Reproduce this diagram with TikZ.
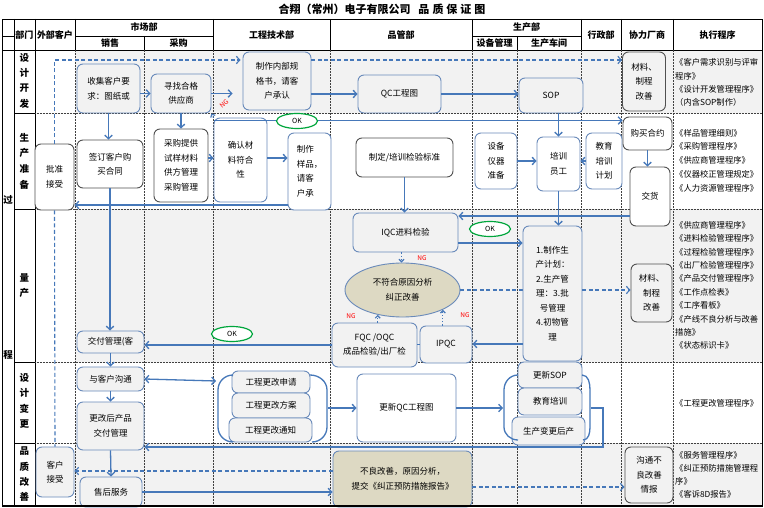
\documentclass[tikz,border=0pt]{standalone}
\usepackage{fontspec}
\setmainfont{Noto Sans CJK SC}
\usetikzlibrary{arrows.meta,shapes.geometric}
\definecolor{lnblue}{RGB}{70,120,185}
\definecolor{bxblue}{RGB}{105,138,186}
\definecolor{bxdark}{RGB}{80,80,80}
\definecolor{bggray}{RGB}{242,242,242}
\definecolor{khaki}{RGB}{221,217,195}
\definecolor{okgreen}{RGB}{0,166,60}
\newcommand\mynodefont{\fontsize{8.5pt}{14.5pt}\selectfont}
\newcommand\myhdrfont{\fontsize{9pt}{11pt}\selectfont\bfseries}
\newcommand\mystagefont{\fontsize{9.5pt}{15.3pt}\selectfont\bfseries}
\begin{document}
\begin{tikzpicture}[x=1pt,y=-1pt,
  >={Straight Barb[length=3.5pt,width=7.5pt]},
  box/.style={draw=bxblue, line width=0.9pt, rounded corners=6pt, fill=bggray, align=center, font=\mynodefont, inner sep=1pt},
  wbox/.style={box, fill=white},
  dk/.style={draw=bxdark},
  kbox/.style={box, fill=khaki},
  arr/.style={draw=lnblue, line width=1.3pt, ->},
  ln/.style={draw=lnblue, line width=1.3pt},
  darr/.style={draw=lnblue, line width=1.1pt, dash pattern=on 4pt off 2.5pt, ->},
  dln/.style={draw=lnblue, line width=1.1pt, dash pattern=on 4pt off 2.5pt},
  dotarr/.style={draw=lnblue, line width=1.2pt, dotted, -{Straight Barb[length=2.5pt,width=5pt]}},
  okel/.style={ellipse, draw=okgreen, line width=1.2pt, fill=white, minimum width=41pt, minimum height=15pt, inner sep=0pt, font=\fontsize{7pt}{8pt}\selectfont},
  ng/.style={text=red, font=\fontsize{6.5pt}{7pt}\selectfont, inner sep=0pt},
  gridln/.style={black!75, line width=0.5pt, densely dotted},
  solidln/.style={black, line width=0.6pt},
  hdr/.style={font=\myhdrfont, inner sep=0pt},
  stage/.style={font=\mystagefont, align=center, inner sep=0pt},
  exec/.style={align=left, anchor=west, inner sep=0pt}
]
\useasboundingbox (0,0) rectangle (764,508);
\fill[white] (0,0) rectangle (764,508);
% row backgrounds
\fill[bggray] (75,50) rectangle (762,113);
\fill[bggray] (75,209) rectangle (762,362);
\fill[bggray] (75,443) rectangle (762,505);
% title
\node[font=\fontsize{11pt}{13pt}\selectfont\bfseries, inner sep=0pt] (title) at (382,9.5) {合翔（常州）电子有限公司\hspace{8pt}品\hspace{3pt}质\hspace{3pt}保\hspace{3pt}证\hspace{3pt}图};
% header grid
\draw[solidln] (2,19) rectangle (762,506);
\draw[solidln] (2,50) -- (762,50);
\foreach \xx in {14,35,75,213,330,472,581,621,673} {\draw[solidln] (\xx,19) -- (\xx,50);}
\foreach \xx in {144,517} {\draw[solidln] (\xx,36) -- (\xx,50);}
\draw[solidln] (75,36) -- (213,36);
\draw[solidln] (472,36) -- (581,36);
\draw[solidln] (2,36) -- (14,36);
% body grid
\draw[solidln] (14,50) -- (14,506);
\draw[solidln] (35,50) -- (35,506);
\foreach \xx in {75,144,213,330,472,517,581,621,673} {\draw[gridln] (\xx,50) -- (\xx,506);}
\foreach \yy in {113,209,362,443} {\draw[solidln] (14,\yy) -- (35,\yy); \draw[gridln] (35,\yy) -- (762,\yy);}
% header texts
\node[hdr] (hbm) at (24.5,35) {部门};
\node[hdr] (hwb) at (55,35) {外部客户};
\node[hdr] (hsc) at (144,27.5) {市场部};
\node[hdr] (hxs) at (110,43) {销售};
\node[hdr] (hcg) at (178.5,43) {采购};
\node[hdr] (hgc) at (271.5,35) {工程技术部};
\node[hdr] (hpg) at (401,35) {品管部};
\node[hdr] (hsp) at (526.5,27.5) {生产部};
\node[hdr] (hsb) at (494.5,43) {设备管理};
\node[hdr] (hcj) at (549,43) {生产车间};
\node[hdr] (hxz) at (601,35) {行政部};
\node[hdr] (hxl) at (647,35) {协力厂商};
\node[hdr] (hzx) at (717.5,35) {执行程序};
% process column
\node[stage] (pg1) at (8,200) {过};
\node[stage] (pg2) at (8,355) {程};
% stage labels
\node[stage] (st1) at (24.5,80.5) {设\\计\\开\\发};
\node[stage, font=\fontsize{9.5pt}{15.6pt}\selectfont\bfseries] (st2) at (24.5,161) {生\\产\\准\\备};
\node[stage] (st3) at (24.5,285.5) {量\\产};
\node[stage] (st4) at (24.5,401) {设\\计\\变\\更};
\node[stage] (st5) at (24.5,474.5) {品\\质\\改\\善};
% execution procedures
\node[exec, font=\fontsize{8.3pt}{13.2pt}\selectfont] (ex1) at (675,82.5) {《客户需求识别与评审\\程序》\\《设计开发管理程序》\\（内含SOP制作）};
\node[exec, font=\fontsize{8.3pt}{13.7pt}\selectfont] (ex2) at (675,160.5) {《样品管理细则》\\《采购管理程序》\\《供应商管理程序》\\《仪器校正管理规定》\\《人力资源管理程序》};
\node[exec, font=\fontsize{8.3pt}{13.4pt}\selectfont] (ex3) at (675,285.5) {《供应商管理程序》\\《进料检验管理程序》\\《过程检验管理程序》\\《出厂检验管理程序》\\《产品交付管理程序》\\《工作点检表》\\《工序看板》\\《产线不良分析与改善\\措施》\\《状态标识卡》};
\node[exec, font=\fontsize{8.3pt}{13.4pt}\selectfont] (ex4) at (675,403) {《工程更改管理程序》};
\node[exec, font=\fontsize{8.3pt}{13pt}\selectfont] (ex5) at (675,474.5) {《服务管理程序》\\《纠正预防措施管理程\\序》\\《客诉8D报告》};
% ===== design development
\node[box, minimum width=63pt, minimum height=49pt] (collect) at (108.5,88.5) {收集客户要\\求：图纸或};
\node[box, minimum width=60pt, minimum height=39pt] (find) at (181,93.5) {寻找合格\\供应商};
\node[box, minimum width=68pt, minimum height=58pt] (spec) at (277,81) {制作内部规\\格书，请客\\户承认};
\node[box, minimum width=83pt, minimum height=38pt] (qc) at (399.5,94) {QC工程图};
\node[box, minimum width=64pt, minimum height=35pt] (sop) at (551,95.5) {SOP};
\node[box, dk, minimum width=43pt, minimum height=59pt] (mat1) at (644,81.5) {材料、\\制程\\改善};
% ===== production preparation
\node[wbox, dk, minimum width=39pt, minimum height=66pt] (approve) at (54.5,177) {批准\\接受};
\node[wbox, dk, minimum width=66pt, minimum height=48pt] (contract) at (110,164) {签订客户购\\买合同};
\node[wbox, dk, minimum width=54pt, minimum height=73pt] (purch) at (181,165.5) {采购提供\\试样材料\\供方管理\\采购管理};
\node[wbox, minimum width=53pt, minimum height=84pt] (confirm) at (240.5,160) {确认材\\料符合\\性};
\node[wbox, align=left, minimum width=43pt, minimum height=77pt] (sample) at (309.5,171.5) {制作\\样品，\\请客\\户承};
\node[wbox, dk, minimum width=97pt, minimum height=39pt] (std) at (404.5,157.5) {制定/培训检验标准};
\node[wbox, minimum width=42pt, minimum height=56pt] (equip) at (496,161) {设备\\仪器\\准备};
\node[wbox, minimum width=43pt, minimum height=54pt] (train) at (558.5,164) {培训\\员工};
\node[wbox, minimum width=36pt, minimum height=56pt] (edu) at (604,161) {教育\\培训\\计划};
\node[wbox, dk, minimum width=49pt, minimum height=33pt] (buy) at (647.5,133.5) {购买合约};
\node[wbox, dk, minimum width=40pt, minimum height=59pt] (deliver) at (650,196.5) {交货};
% ===== mass production
\node[box, minimum width=105pt, minimum height=39pt] (iqc) at (405.5,232.5) {IQC进料检验};
\node[ellipse, draw=bxblue, line width=0.9pt, fill=khaki, font=\mynodefont, align=center, minimum width=115pt, minimum height=54pt, inner sep=0pt] (ell) at (402.5,290) {不符合原因分析\\纠正改善};
\node[box, minimum width=85pt, minimum height=44pt] (fqc) at (374.5,345) {FQC /OQC\\成品检验/出厂检};
\node[box, minimum width=52pt, minimum height=37pt] (ipqc) at (446,344.5) {IPQC};
\node[box, dk, minimum width=41pt, minimum height=58pt] (mat2) at (651.5,293) {材料、\\制程\\改善};
\node[box, minimum width=67pt, minimum height=22pt] (deliv2) at (110.5,342) {交付管理(客};
% dashed line behind plan box
\draw[dln] (ell.east) -- (ell.east -| 523,0);
\node[box, minimum width=59pt, minimum height=135pt] (plan) at (552.5,293.5) {1.制作生\\产计划：\\2.生产管\\理：3.批\\号管理\\4.初物管\\理};
\draw[darr] (ell.east -| plan.east) -- (ell.east -| mat2.west);
% ===== design change
\node[box, minimum width=67pt, minimum height=24pt] (comm) at (110.5,379) {与客户沟通};
\node[box, minimum width=67pt, minimum height=48pt] (chgdeliv) at (110.5,426) {更改后产品\\交付管理};
\node[box, minimum width=78pt, minimum height=22pt] (ec1) at (271,382) {工程更改申请};
\node[box, minimum width=78pt, minimum height=25pt] (ec2) at (271,405.5) {工程更改方案};
\node[box, minimum width=83pt, minimum height=24pt] (ec3) at (270.5,430) {工程更改通知};
\node[wbox, minimum width=99pt, minimum height=68pt] (upqc) at (406.5,408) {更新QC工程图};
\node[box, minimum width=64pt, minimum height=26pt] (usop) at (550,375) {更新SOP};
\node[box, minimum width=64pt, minimum height=27pt] (edu2) at (550,401.5) {教育培训};
\node[box, minimum width=73pt, minimum height=28pt] (prodchg) at (548.5,431) {生产变更后产};
% braces
\draw[ln] (233,375) to[out=180,in=90] (218,390) -- (218,427) to[out=-90,in=180] (233,442);
\draw[ln] (310,375) to[out=0,in=90] (327,390) -- (327,427) to[out=-90,in=0] (312,442);
\draw[ln] (518,375) to[out=180,in=90] (504,390) -- (504,427) to[out=-90,in=180] (518,440);
\draw[ln] (582,375) to[out=0,in=90] (590,390) -- (590,427) to[out=-90,in=0] (583,440);
\coordinate (ecL) at (216,381);
\coordinate (ecR) at (328,408);
\coordinate (prL) at (503,408);
\coordinate (prR) at (591,408);
\coordinate (turn) at (603,447);
% ===== quality improvement
\node[box, minimum width=38pt, minimum height=50pt] (accept) at (55,472) {客户\\接受};
\node[box, minimum width=62pt, minimum height=30pt] (service) at (111,492) {售后服务};
\node[kbox, minimum width=139pt, minimum height=56pt] (bad) at (402.5,479) {不良改善，原因分析，\\提交《纠正预防措施报告》};
\node[box, dk, minimum width=48pt, minimum height=56pt] (commbad) at (649,475) {沟通不\\良改善\\情报};
% ===== connectors: design development
\draw[arr] (collect.east |- find.west) -- (find.west);
\draw[arr, shorten >=10pt] (find.east) -- (find.east -| spec.west);
\draw[arr] (spec.east |- qc.west) -- (qc.west);
\draw[arr] (qc.east) -- (qc.east -| sop.west);
\draw[arr] (collect.south) -- (collect.south |- contract.north);
\draw[arr] (find.south) -- (find.south |- purch.north);
\draw[darr, shorten >=2pt] (approve.north) |- ([yshift=21pt]spec.west);
\draw[darr] ([yshift=21pt]spec.east) -- ([yshift=21pt]spec.east -| mat1.west);
\draw[dln] (approve.south) -- (accept.north);
% NG back to supplier search
\draw[dotarr] (confirm.north west) -- (find.south east);
\node[ng, rotate=40] (ng1) at (224,104) {NG};
% ===== connectors: preparation
\draw[arr] ([yshift=7.5pt]purch.east) -- ([yshift=7.5pt]purch.east -| confirm.west);
\draw[arr] ([yshift=2pt]confirm.east) -- ([yshift=2pt]confirm.east -| sample.west);
\draw[arr] ([yshift=-33.5pt]sample.west) -- ([yshift=-33.5pt]sample.west -| approve.east);
\draw[arr] ([yshift=-3pt]confirm.north west) -- ([yshift=-3pt]confirm.north west -| buy.west);
\node[okel] (ok1) at (297,121) {OK};
\draw[arr] (train.north |- sop.south) -- (train.north);
\draw[arr] (equip.east) -- (equip.east -| train.west);
\draw[arr] (edu.west) -- (edu.west -| train.east);
\draw[arr] (buy.south) -- (buy.south |- deliver.north);
\draw[arr] (std.south) -- (std.south |- iqc.north);
\draw[arr] (contract.south) -- (contract.south |- deliv2.north);
% ===== connectors: mass production
\draw[arr] ([yshift=-19.5pt]deliver.west) -- ([yshift=-19.5pt]deliver.west -| iqc.east);
\draw[arr] ([yshift=-10.5pt]iqc.east) -- ([yshift=-10.5pt]iqc.east -| plan.west);
\node[okel] (ok2) at (490,229) {OK};
\draw[arr] (train.south) -- (train.south |- plan.north);
\draw[dotarr] ([xshift=-4pt]iqc.south) -- ([xshift=-4pt]iqc.south |- ell.north);
\node[ng] (ng2) at (422,258) {NG};
\draw[dotarr] (fqc.north -| ell.225) -- (ell.225);
\node[ng] (ng3) at (351,316) {NG};
\draw[dotarr] (ipqc.north -| ell.-26) -- (ell.-26);
\node[ng] (ng4) at (465,315) {NG};
\draw[arr] ([yshift=-50.5pt]plan.west) -- ([yshift=-50.5pt]plan.west -| ipqc.east);
\draw[ln] (ipqc.west) -- (ipqc.west -| fqc.east);
\draw[arr] (fqc.west) -- (fqc.west -| deliv2.east);
\node[okel] (ok3) at (232,334) {OK};
\draw[arr] (deliv2.south) -- (comm.north);
% ===== connectors: design change
\draw[arr] (comm.south) -- (comm.south |- chgdeliv.north);
\draw[ln, <->] (comm.east) -- (ecL);
\draw[arr] (ecR) -- (upqc.west);
\draw[arr] (upqc.east) -- (prL);
\draw[arr] (prR) -| (turn) -- ([yshift=-21pt]chgdeliv.east);
% ===== connectors: quality improvement
\draw[arr] (chgdeliv.south) -- (service.north);
\draw[darr] ([yshift=8pt]bad.west) -- ([yshift=8pt]bad.west -| accept.east);
\draw[arr] (service.east) -- (service.east -| bad.west);
\draw[darr] ([yshift=-8pt]bad.east) -- ([yshift=-8pt]bad.east -| commbad.west);
% bottom edge
\draw[black, line width=1.2pt] (2,506) -- (762,506);
\end{tikzpicture}
\end{document}
